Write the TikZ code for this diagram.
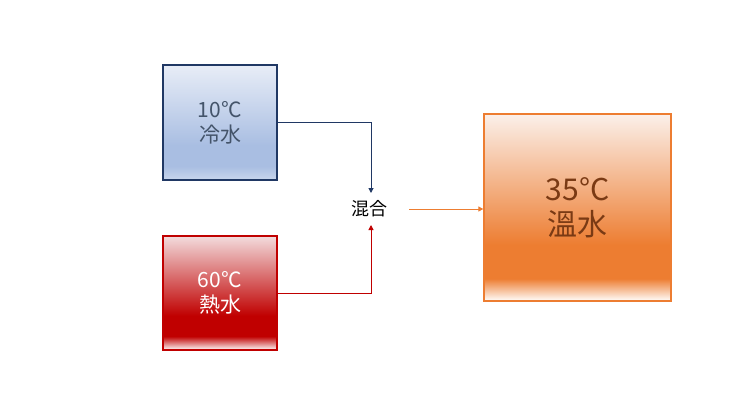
\documentclass[tikz,border=0pt]{standalone}
\usepackage{fontspec}
\setmainfont{Noto Sans CJK JP}
\usetikzlibrary{arrows.meta}
\definecolor{coldc}{HTML}{A9BEE2}
\definecolor{coldl}{HTML}{E8EDF7}
\definecolor{coldb}{HTML}{C9D6ED}
\definecolor{coldline}{HTML}{203864}
\definecolor{hotc}{HTML}{C00000}
\definecolor{hotl}{HTML}{F3DCDD}
\definecolor{warmc}{HTML}{ED7D31}
\definecolor{warml}{HTML}{FBF0EA}
\definecolor{warmtext}{HTML}{7A3A14}
\definecolor{coldtext}{HTML}{44546A}
\pgfdeclareverticalshading{coldsh}{100bp}{color(0bp)=(coldb); color(25bp)=(coldb); color(31bp)=(coldc); color(40bp)=(coldc); color(75bp)=(coldl); color(100bp)=(coldl)}
\pgfdeclareverticalshading{hotsh}{100bp}{color(0bp)=(white); color(25bp)=(white); color(31bp)=(hotc); color(40bp)=(hotc); color(75bp)=(hotl); color(100bp)=(hotl)}
\pgfdeclareverticalshading{warmsh}{100bp}{color(0bp)=(white); color(25bp)=(white); color(31bp)=(warmc); color(40bp)=(warmc); color(75bp)=(warml); color(100bp)=(warml)}
\tikzset{
  box/.style={draw, line width=1.3pt, inner sep=0pt, align=center},
  flow/.style={line width=1pt, -{Triangle[length=5pt,width=5pt]}},
}
\begin{document}
\begin{tikzpicture}[x=1pt,y=-1pt]
\useasboundingbox[fill=white] (0,0) rectangle (740,416);
\node[box, draw=coldline, shading=coldsh, minimum width=114pt, minimum height=115pt, text=coldtext, font=\fontsize{21}{25}\selectfont] (cold) at (220,122.5) {10°C\\冷水};
\node[box, draw=hotc, shading=hotsh, minimum width=114pt, minimum height=114pt, text=white, font=\fontsize{21}{25}\selectfont] (hot) at (220,293) {60°C\\熱水};
\node[box, draw=warmc, shading=warmsh, minimum width=187pt, minimum height=187pt, text=warmtext, font=\fontsize{30}{35}\selectfont] (warm) at (577.5,207.5) {35°C\\溫水};
\node[font=\fontsize{18}{21}\selectfont, inner sep=2pt] (mix) at (369,209) {混合};
\coordinate (cin) at (371,193);
\coordinate (hin) at (371,225);
\coordinate (mout) at (409,209);
\draw[flow, draw=coldline] (cold.east) -| (cin);
\draw[flow, draw=hotc] (hot.east) -| (hin);
\draw[flow, draw=warmc] (mout) -- (mout -| warm.west);
\end{tikzpicture}
\end{document}
